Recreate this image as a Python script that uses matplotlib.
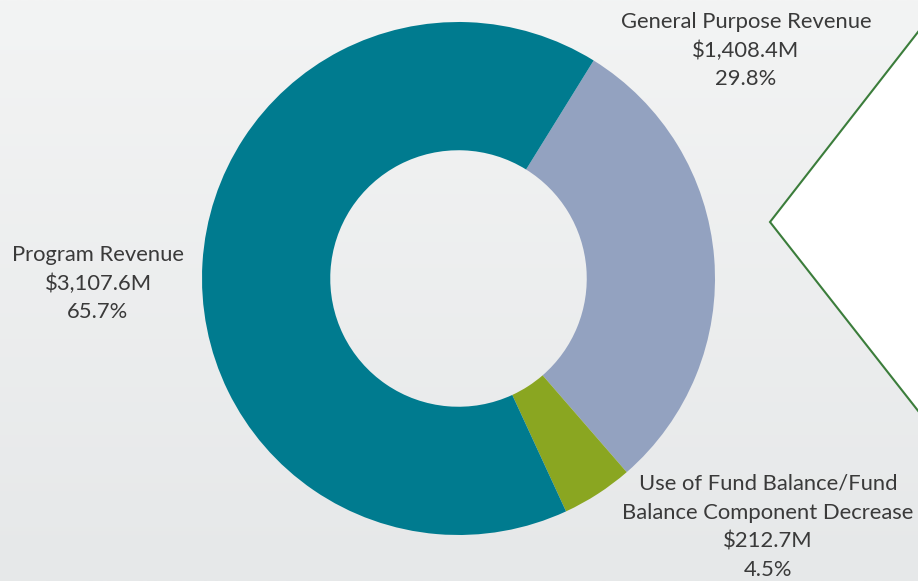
import numpy as np
import matplotlib.pyplot as plt
from matplotlib.patches import Polygon

# Revenue sources (in $M)
names = ["General Purpose Revenue",
         "Use of Fund Balance/Fund\nBalance Component Decrease",
         "Program Revenue"]
values = [1408.4, 212.7, 3107.6]
colors = ["#93a2c0", "#8aa621", "#007b8f"]

W, H = 918, 581
fig = plt.figure(figsize=(W / 100, H / 100), dpi=100)
ax = fig.add_axes([0, 0, 1, 1])

# soft vertical gradient behind everything
grad = np.linspace(0, 1, 256)[:, None]
top = np.array([0xf3, 0xf4, 0xf4]) / 255
bot = np.array([0xe6, 0xe8, 0xe9]) / 255
img = top[None, None, :] * (1 - grad[..., None]) + bot[None, None, :] * grad[..., None]
ax.imshow(img, extent=[0, W, 0, H], aspect="auto", zorder=0, origin="upper")

# donut
cx, cy, r = 458.5, 302.5, 256.5
ax.pie(values, colors=colors, startangle=58.2, counterclock=False,
       center=(cx, cy), radius=r, frame=True,
       wedgeprops=dict(width=r / 2, linewidth=0))
ax.set_xlim(0, W)
ax.set_ylim(0, H)
ax.set_aspect("equal")
ax.axis("off")

# white callout shape on the right
pts = [(1000, 549 + (1000 - 918) * 190 / 148), (770, 359),
       (1000, 171 - (1000 - 918) * 190 / 148)]
ax.add_patch(Polygon(pts, closed=True, facecolor="white", edgecolor="#3b7d3b",
                     linewidth=1.5, zorder=3))

total = sum(values)
label_pos = [(746, 559), (768, 97), (98, 326)]
step = 28.7
for name, val, (x, y) in zip(names, values, label_pos):
    lines = name.split("\n") + [f"${val:,.1f}M", f"{val / total * 100:.1f}%"]
    for i, line in enumerate(lines):
        ax.text(x, y - i * step, line, ha="center", va="center",
                fontsize=15.8, family="Lato", color="#3a3a3a", zorder=4)

fig.savefig("out.png", dpi=100)
